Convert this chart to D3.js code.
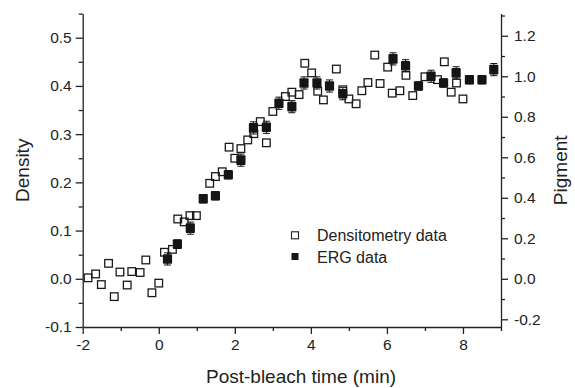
<!DOCTYPE html>
<html>
<head>
<meta charset="utf-8">
<script src="https://cdn.jsdelivr.net/npm/d3@7"></script>
<style>
  body { margin: 0; background: #fff; }
  text { font-family: "Liberation Sans", Arial, Helvetica, sans-serif; fill: #222; }
  .axis path, .axis line { stroke: #222; stroke-width: 1.3; }
</style>
</head>
<body>
<script>
// densitometry data (density, left axis)
var densX = [-1.86,-1.66,-1.51,-1.32,-1.17,-1.02,-0.83,-0.71,-0.49,-0.34,-0.18,0.0,0.15,0.36,0.50,0.67,0.82,0.99,
             1.34,1.49,1.67,1.85,2.0,2.16,2.34,2.50,2.67,2.83,3.0,3.33,3.5,3.69,3.84,4.02,4.18,4.33,4.67,4.84,
             5.0,5.19,5.34,5.5,5.68,5.82,6.02,6.14,6.34,6.5,6.68,7.0,7.33,7.51,7.69,7.83,8.0];
var densY = [0.002,0.010,-0.012,0.032,-0.037,0.014,-0.013,0.015,0.013,0.039,-0.029,-0.009,0.055,0.061,0.124,0.118,0.131,0.131,
             0.198,0.212,0.222,0.273,0.250,0.270,0.288,0.301,0.326,0.282,0.347,0.378,0.387,0.382,0.447,0.427,0.389,0.371,0.435,0.392,
             0.373,0.363,0.390,0.407,0.464,0.405,0.439,0.385,0.390,0.422,0.380,0.419,0.413,0.450,0.387,0.406,0.373];

// ERG data (pigment, right axis)
var ergX = [0.23,0.49,0.83,1.17,1.49,1.83,2.16,2.49,2.83,3.16,3.50,3.82,4.16,4.49,4.84,6.16,6.49,6.83,7.16,7.49,7.82,8.17,8.50,8.81];
var ergY = [0.098,0.171,0.25,0.395,0.41,0.514,0.586,0.745,0.748,0.867,0.85,0.967,0.967,0.952,0.914,1.086,1.052,0.952,1.0,0.967,1.017,0.983,0.983,1.033];
var ergErr = [0.03,0.02,0.03,0.02,0.02,0.02,0.03,0.03,0.03,0.03,0.03,0.03,0.03,0.03,0.03,0.03,0.03,0.02,0.03,0.02,0.03,0.02,0.02,0.03];

var xTicks = [-2,0,2,4,6,8];
var densTicks = [-0.1,0.0,0.1,0.2,0.3,0.4,0.5];
var pigTicks = [-0.2,0.0,0.2,0.4,0.6,0.8,1.0,1.2];

var svg = d3.select("body").append("svg")
    .attr("width", 575)
    .attr("height", 388);

var plotL = 82.7, plotR = 501, plotT = 13.6, plotB = 327;

var x = d3.scaleLinear().domain([-2, 9]).range([plotL, plotR]);
var yD = d3.scaleLinear().domain([-0.1, 0.55]).range([plotB, plotT]);
var yP = d3.scaleLinear().domain([-0.1/0.42, 0.55/0.42]).range([plotB, plotT]);

var fmt1 = function(d) { return d.toFixed(1); };
var fmt0 = function(d) { return String(d); };

// minor ticks first
svg.append("g").attr("class", "axis")
    .attr("transform", "translate(0," + plotB + ")")
    .call(d3.axisBottom(x).tickValues(d3.range(-1, 10, 2)).tickSize(4).tickFormat(""))
    .select(".domain").remove();
svg.append("g").attr("class", "axis")
    .attr("transform", "translate(" + plotL + ",0)")
    .call(d3.axisLeft(yD).tickValues([-0.05,0.05,0.15,0.25,0.35,0.45,0.55]).tickSize(4).tickFormat(""))
    .select(".domain").remove();
svg.append("g").attr("class", "axis")
    .attr("transform", "translate(" + plotR + ",0)")
    .call(d3.axisRight(yP).tickValues([-0.1,0.1,0.3,0.5,0.7,0.9,1.1,1.3]).tickSize(4).tickFormat(""))
    .select(".domain").remove();

// major axes
var fs = "15.5px";
var gx = svg.append("g").attr("class", "axis")
    .attr("transform", "translate(0," + plotB + ")")
    .call(d3.axisBottom(x).tickValues(xTicks).tickSize(7).tickSizeOuter(0).tickPadding(5).tickFormat(fmt0));
gx.selectAll("text").style("font-size", fs);

var gl = svg.append("g").attr("class", "axis")
    .attr("transform", "translate(" + plotL + ",0)")
    .call(d3.axisLeft(yD).tickValues(densTicks).tickSize(7).tickSizeOuter(0).tickPadding(4).tickFormat(fmt1));
gl.selectAll("text").style("font-size", fs);

var gr = svg.append("g").attr("class", "axis")
    .attr("transform", "translate(" + plotR + ",0)")
    .call(d3.axisRight(yP).tickValues(pigTicks).tickSize(7).tickSizeOuter(0).tickPadding(6).tickFormat(fmt1));
gr.selectAll("text").style("font-size", fs);

svg.selectAll(".axis text").attr("fill", "#222");

// axis titles
svg.append("text")
    .attr("transform", "translate(29," + ((plotT + plotB) / 2) + ") rotate(-90)")
    .attr("text-anchor", "middle")
    .style("font-size", "19px")
    .text("Density");

svg.append("text")
    .attr("transform", "translate(567," + ((plotT + plotB) / 2) + ") rotate(-90)")
    .attr("text-anchor", "middle")
    .style("font-size", "19px")
    .text("Pigment");

svg.append("text")
    .attr("x", 301)
    .attr("y", 383)
    .attr("text-anchor", "middle")
    .style("font-size", "19px")
    .text("Post-bleach time (min)");

// densitometry squares
var dens = densX.map(function(d, i) { return {x: d, y: densY[i]}; });
svg.append("g").selectAll("rect")
    .data(dens)
    .enter().append("rect")
    .attr("x", function(d) { return x(d.x) - 3.8; })
    .attr("y", function(d) { return yD(d.y) - 3.8; })
    .attr("width", 7.6).attr("height", 7.6)
    .attr("fill", "none")
    .attr("stroke", "#1a1a1a")
    .attr("stroke-width", 1.3);

// ERG error bars + squares
var erg = ergX.map(function(d, i) { return {x: d, y: ergY[i], e: ergErr[i]}; });
var eg = svg.append("g");
eg.selectAll(".eb").data(erg).enter().append("path")
    .attr("d", function(d) {
        var cx = x(d.x), y1 = yP(d.y + d.e), y2 = yP(d.y - d.e);
        return "M" + cx + "," + y1 + "V" + y2 +
               "M" + (cx - 3.5) + "," + y1 + "H" + (cx + 3.5) +
               "M" + (cx - 3.5) + "," + y2 + "H" + (cx + 3.5);
    })
    .attr("stroke", "#111").attr("stroke-width", 1).attr("fill", "none");
eg.selectAll("rect").data(erg).enter().append("rect")
    .attr("x", function(d) { return x(d.x) - 4.6; })
    .attr("y", function(d) { return yP(d.y) - 4.8; })
    .attr("width", 9.2).attr("height", 9.6)
    .attr("rx", 1)
    .attr("fill", "#151515");

// legend
var lg = svg.append("g");
lg.append("rect").attr("x", 291.5).attr("y", 231.8).attr("width", 7).attr("height", 7)
    .attr("fill", "none").attr("stroke", "#222").attr("stroke-width", 1.1);
lg.append("rect").attr("x", 291.5).attr("y", 253).attr("width", 7).attr("height", 7)
    .attr("fill", "#151515");
lg.append("text").attr("x", 317).attr("y", 241).style("font-size", "16px").text("Densitometry data");
lg.append("text").attr("x", 317).attr("y", 262.5).style("font-size", "16px").text("ERG data");
</script>
</body>
</html>
